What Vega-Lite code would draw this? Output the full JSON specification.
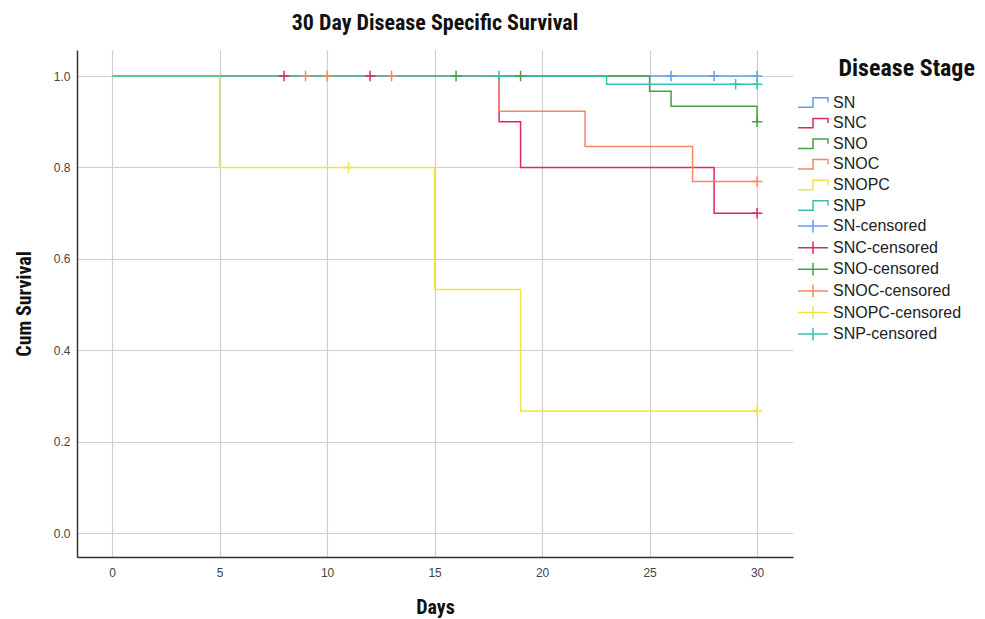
{
  "$schema": "https://vega.github.io/schema/vega-lite/v6.json",
  "width": 716,
  "height": 507,
  "autosize": "none",
  "padding": {"left": 77, "top": 50, "right": 192, "bottom": 62},
  "background": "white",
  "title": {
    "text": "30 Day Disease Specific Survival",
    "font": "Liberation Sans Narrow, Roboto Condensed, Liberation Sans",
    "fontSize": 22,
    "fontWeight": "bold",
    "color": "#111111",
    "anchor": "middle",
    "offset": 15
  },
  "config": {
    "view": {"stroke": null},
    "font": "Liberation Sans",
    "axis": {
      "grid": true,
      "gridColor": "#cfcfcf",
      "gridWidth": 1.2,
      "domainColor": "#333333",
      "domainWidth": 1.5,
      "ticks": false,
      "tickSize": 0,
      "labelFont": "Liberation Sans",
      "labelFontSize": 12,
      "labelColor": "#444444",
      "titleFont": "Liberation Sans Narrow, Roboto Condensed, Liberation Sans",
      "titleFontSize": 20,
      "titleFontWeight": "bold",
      "titleColor": "#111111"
    }
  },
  "datasets": {
    "curves": [
      {"group": "SN", "day": 0, "surv": 1},
      {"group": "SN", "day": 30, "surv": 1},
      {"group": "SNC", "day": 0, "surv": 1},
      {"group": "SNC", "day": 18, "surv": 0.9},
      {"group": "SNC", "day": 19, "surv": 0.8},
      {"group": "SNC", "day": 28, "surv": 0.7},
      {"group": "SNC", "day": 30, "surv": 0.7},
      {"group": "SNO", "day": 0, "surv": 1},
      {"group": "SNO", "day": 25, "surv": 0.967},
      {"group": "SNO", "day": 26, "surv": 0.934},
      {"group": "SNO", "day": 30, "surv": 0.9},
      {"group": "SNOC", "day": 0, "surv": 1},
      {"group": "SNOC", "day": 18, "surv": 0.923},
      {"group": "SNOC", "day": 22, "surv": 0.846},
      {"group": "SNOC", "day": 27, "surv": 0.769},
      {"group": "SNOC", "day": 30, "surv": 0.769},
      {"group": "SNOPC", "day": 0, "surv": 1},
      {"group": "SNOPC", "day": 5, "surv": 0.8},
      {"group": "SNOPC", "day": 15, "surv": 0.533},
      {"group": "SNOPC", "day": 19, "surv": 0.267},
      {"group": "SNOPC", "day": 30, "surv": 0.267},
      {"group": "SNP", "day": 0, "surv": 1},
      {"group": "SNP", "day": 23, "surv": 0.982},
      {"group": "SNP", "day": 30, "surv": 0.982}
    ],
    "censored": [
      {"group": "SN-censored", "day": 26, "surv": 1},
      {"group": "SN-censored", "day": 28, "surv": 1},
      {"group": "SN-censored", "day": 30, "surv": 1},
      {"group": "SNC-censored", "day": 8, "surv": 1},
      {"group": "SNC-censored", "day": 12, "surv": 1},
      {"group": "SNC-censored", "day": 30, "surv": 0.7},
      {"group": "SNO-censored", "day": 16, "surv": 1},
      {"group": "SNO-censored", "day": 19, "surv": 1},
      {"group": "SNO-censored", "day": 30, "surv": 0.9},
      {"group": "SNOC-censored", "day": 9, "surv": 1},
      {"group": "SNOC-censored", "day": 10, "surv": 1},
      {"group": "SNOC-censored", "day": 13, "surv": 1},
      {"group": "SNOC-censored", "day": 30, "surv": 0.769},
      {"group": "SNOPC-censored", "day": 11, "surv": 0.8},
      {"group": "SNOPC-censored", "day": 30, "surv": 0.267},
      {"group": "SNP-censored", "day": 18, "surv": 1},
      {"group": "SNP-censored", "day": 29, "surv": 0.982},
      {"group": "SNP-censored", "day": 30, "surv": 0.982}
    ]
  },
  "encoding": {
    "x": {
      "field": "day",
      "type": "quantitative",
      "scale": {"domain": [-1.63, 31.67], "nice": false, "zero": false},
      "axis": {"values": [0, 5, 10, 15, 20, 25, 30], "title": "Days", "labelPadding": 10, "titlePadding": 19, "labelFlush": false}
    },
    "y": {
      "field": "surv",
      "type": "quantitative",
      "scale": {"domain": [-0.0525, 1.057], "nice": false, "zero": false},
      "axis": {"values": [0, 0.2, 0.4, 0.6, 0.8, 1.0], "format": ".1f", "title": "Cum Survival", "labelPadding": 7, "titlePadding": 19, "labelFlush": false}
    },
    "color": {
      "field": "group",
      "type": "nominal",
      "scale": {
        "domain": ["SN", "SNC", "SNO", "SNOC", "SNOPC", "SNP", "SN-censored", "SNC-censored", "SNO-censored", "SNOC-censored", "SNOPC-censored", "SNP-censored"],
        "range": ["#5f9ff0", "#e0285c", "#46a046", "#f8885c", "#ece545", "#38c2ad", "#5f9ff0", "#e0285c", "#46a046", "#f8885c", "#ece545", "#38c2ad"]
      },
      "legend": {
        "title": "Disease Stage",
        "orient": "none",
        "legendX": 724.5,
        "legendY": 7,
        "padding": 0,
        "titleFont": "Liberation Sans Narrow, Roboto Condensed, Liberation Sans",
        "titleFontSize": 24,
        "titleFontWeight": "bold",
        "titleColor": "#111111",
        "titlePadding": 10,
        "titleAnchor": "start",
        "labelFont": "Liberation Sans",
        "labelFontSize": 16,
        "labelColor": "#222222",
        "labelOffset": 8.5,
        "symbolSize": 441,
        "rowPadding": 0.6,
        "labelLimit": 300,
        "encode": {
          "title": {"update": {"dx": {"value": 37}}},
          "symbols": {
            "update": {
              "shape": {"signal": "indexof(datum.value, 'censored') >= 0 ? 'M-1.43,0H1.43M0,-0.6V0.6' : 'M-1.43,0.45H0V-0.45H1.43V0'"},
              "fill": {"value": "transparent"},
              "fillOpacity": {"value": 0},
              "stroke": {"scale": "color", "field": "value"},
              "strokeWidth": {"value": 1.5},
              "strokeDash": {"value": []},
              "opacity": {"value": 1}
            }
          }
        }
      }
    }
  },
  "layer": [
    {
      "data": {"name": "curves"},
      "mark": {"type": "line", "interpolate": "step-after", "strokeWidth": 1.5, "clip": true},
      "encoding": {"detail": {"field": "group"}}
    },
    {
      "data": {"name": "censored"},
      "mark": {"type": "point", "shape": "M-1,0H1M0,-1V1", "size": 110, "filled": false, "strokeWidth": 1.5, "opacity": 1}
    }
  ]
}
